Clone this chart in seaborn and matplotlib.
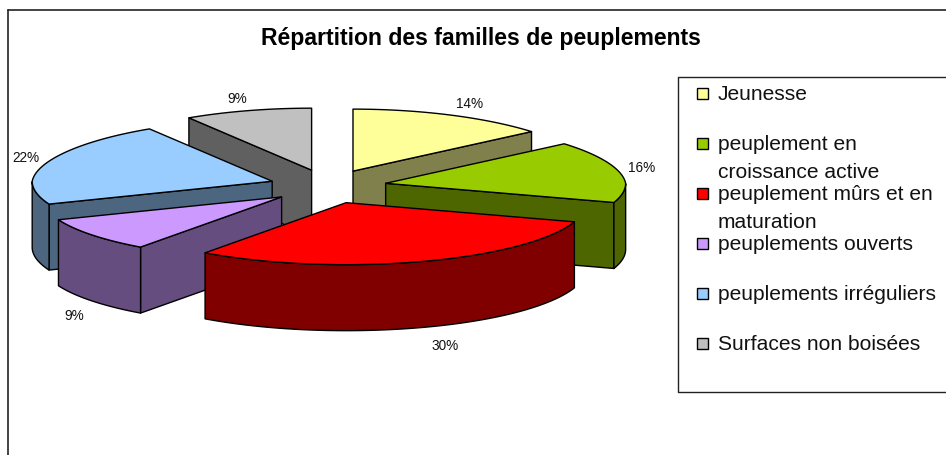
import numpy as np
import matplotlib
matplotlib.use("Agg")
import matplotlib.pyplot as plt
from matplotlib.patches import Polygon, Rectangle
import seaborn as sns

title = "Répartition des familles de peuplements"
categories = ["Jeunesse", "peuplement en\ncroissance active", "peuplement mûrs et en\nmaturation",
              "peuplements ouverts", "peuplements irréguliers", "Surfaces non boisées"]
values = [14, 16, 30, 9, 22, 9]
colors = ["#FFFF99", "#99CC00", "#FF0000", "#CC99FF", "#99CCFF", "#C0C0C0"]

sns.set_theme(style="white")
plt.rcParams["font.family"] = ["Liberation Sans", "DejaVu Sans"]

# pie layout in image pixels
cx, cy = 328, 186.5
rx, ry = 240, 62
rx_back = 13  # back of the pie looks narrower, perspective
depth = 66
explode_x, explode_y = 58.7, 17
label_shift = [(14, -11), (20, -4), (25, 18), (-18, 15), (-18, -4), (-7, -12)]

fig = plt.figure(figsize=(9.46, 4.55), dpi=100)
ax = fig.add_axes([0, 0, 1, 1])
ax.set_xlim(0, 946)
ax.set_ylim(455, 0)
ax.axis("off")

palette = sns.color_palette(colors)
total = sum(values)
edges = np.cumsum([0] + values) / total * 2 * np.pi

slices = []
for i in range(len(values)):
    mid = (edges[i] + edges[i + 1]) / 2
    ax0 = cx + explode_x * np.sin(mid)
    ay0 = cy - explode_y * np.cos(mid)
    slices.append((ay0, ax0, i))

# back slices first so the front ones cover them
for ay0, ax0, i in sorted(slices):
    t0, t1 = edges[i], edges[i + 1]
    face = palette[i]
    side = tuple(c * 0.5 for c in face)
    t = np.linspace(t0, t1, 80)
    r = rx - rx_back * np.clip(np.cos(t), 0, None)
    xs = ax0 + r * np.sin(t)
    ys = ay0 - ry * np.cos(t)

    walls = []
    if np.sin(t0) < -1e-6:
        walls.append(([ax0, xs[0]], [ay0, ys[0]]))
    if np.sin(t1) > 1e-6:
        walls.append(([ax0, xs[-1]], [ay0, ys[-1]]))
    front = (t >= np.pi / 2) & (t <= 3 * np.pi / 2)
    if front.sum() > 1:
        walls.append((xs[front], ys[front]))
    for wx, wy in walls:
        wx = np.asarray(wx)
        wy = np.asarray(wy)
        pts = np.r_[np.c_[wx, wy], np.c_[wx[::-1], wy[::-1] + depth]]
        ax.add_patch(Polygon(pts, closed=True, facecolor=side, edgecolor="black", lw=1, joinstyle="round"))

    top = np.r_[[[ax0, ay0]], np.c_[xs, ys]]
    ax.add_patch(Polygon(top, closed=True, facecolor=face, edgecolor="black", lw=1, joinstyle="round"))

    mid = (t0 + t1) / 2
    lx = ax0 + rx * np.sin(mid) + label_shift[i][0]
    ly = ay0 - ry * np.cos(mid) + label_shift[i][1] + (depth if np.cos(mid) < 0 else 0)
    ax.text(lx, ly, f"{values[i]}%", fontsize=9.8, color="#111111", ha="center", va="center")

ax.text(481, 39, title, fontsize=16.6, fontweight="bold", color="black", ha="center", va="center")

# legend box, its right side runs off the picture like the outer frame
ax.plot([946, 678, 678, 946], [77, 77, 392, 392], color="#222222", lw=1, solid_capstyle="butt")
ax.plot([8, 8], [455, 9.5], color="#222222", lw=1.2)
ax.plot([8, 946], [9.5, 9.5], color="#222222", lw=1.2)

for i, name in enumerate(categories):
    y = 93 + 50 * i
    ax.add_patch(Rectangle((697, y - 5.5), 11, 11, facecolor=palette[i], edgecolor="black", lw=1))
    for j, line in enumerate(name.split("\n")):
        ax.text(718, y + 1 + 28 * j, line, fontsize=15.1, color="#111111", ha="left", va="center")

fig.savefig("out.png", dpi=100)
